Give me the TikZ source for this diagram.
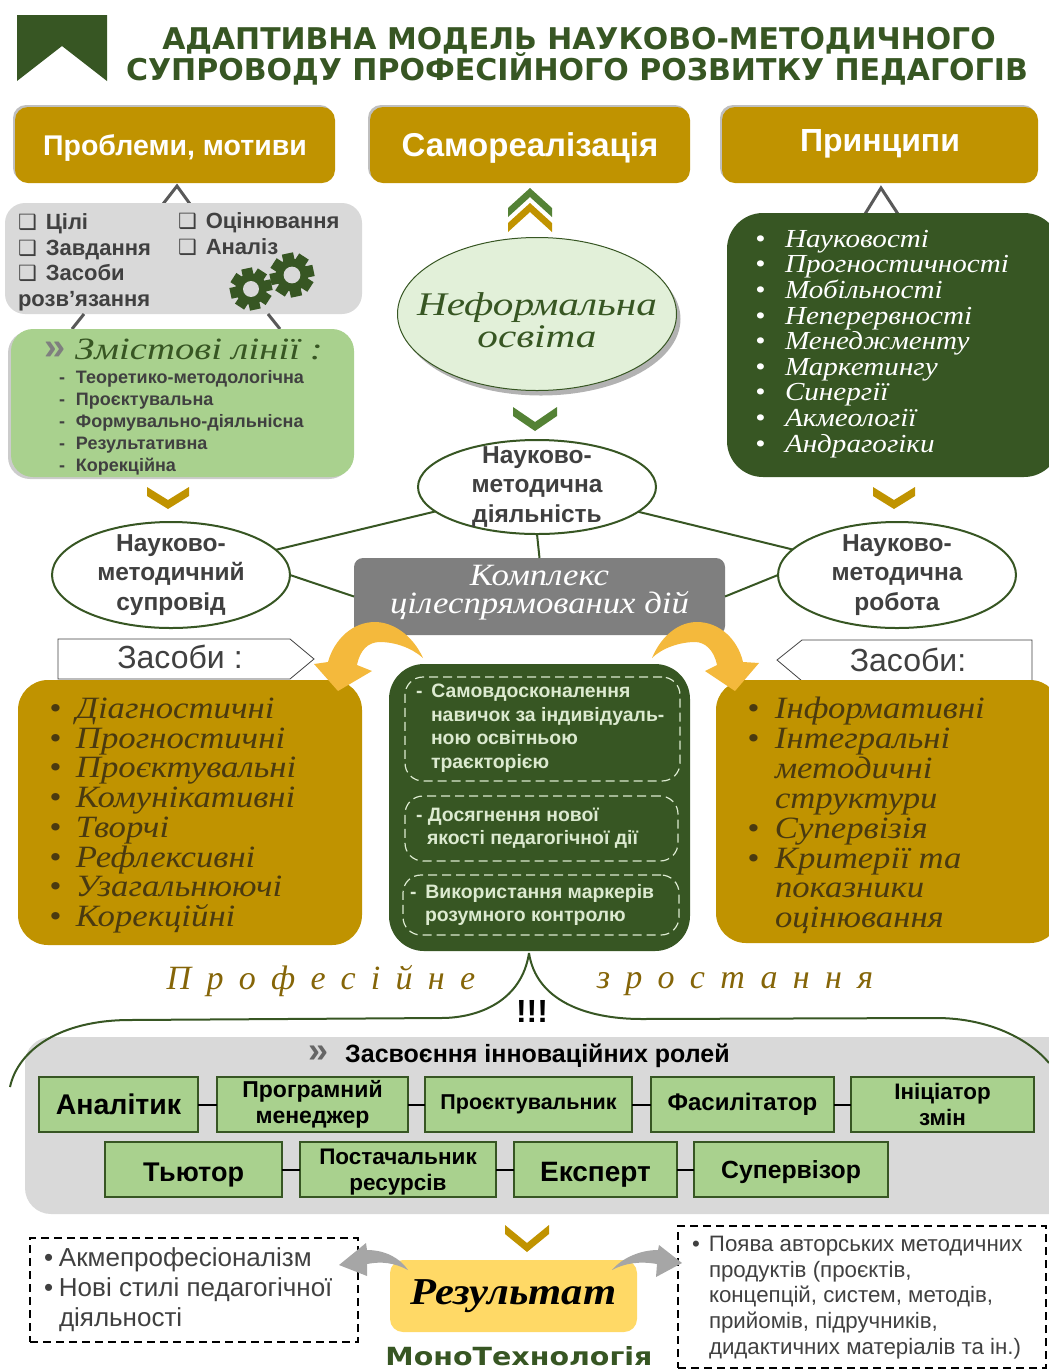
\documentclass[tikz,border=0pt]{standalone}
\usepackage{fontspec}
\usetikzlibrary{shadows,shapes.geometric}
\setmainfont{Liberation Sans}
\newfontfamily\wide{DejaVu Sans}
\newfontfamily\widex[FakeStretch=1.14]{DejaVu Sans}
\newfontfamily\symf{DejaVu Sans}
\newfontfamily\curf[FakeStretch=1.12]{Liberation Serif}
\newfontfamily\curwf[FakeStretch=1.25]{Liberation Serif}
\newfontfamily\cursp[LetterSpace=45]{Liberation Serif}
\newcommand{\cur}{\curf\itshape}
\newcommand{\curw}{\curwf\itshape}
\newcommand{\fs}[2]{\fontsize{#1}{#2}\selectfont}
\definecolor{dgreen}{HTML}{375623}
\definecolor{mgreen}{HTML}{548235}
\definecolor{gold}{HTML}{C09300}
\definecolor{lgreen}{HTML}{A9D18E}
\definecolor{pgreen}{HTML}{E2F0D9}
\definecolor{lgrey}{HTML}{D9D9D9}
\definecolor{mgrey}{HTML}{7F7F7F}
\definecolor{ink}{HTML}{404040}
\definecolor{bronze}{HTML}{856508}
\definecolor{yarrow}{HTML}{F4B93C}
\definecolor{yres}{HTML}{FFD966}
\definecolor{golddark}{HTML}{4A3A10}
\definecolor{paletxt}{HTML}{DCEAD0}
% box from corners
\newcommand{\rbx}[7][]{%
  \pgfmathsetmacro{\bcx}{(#3+#5)/2}\pgfmathsetmacro{\bcy}{(#4+#6)/2}%
  \pgfmathsetmacro{\bw}{#5-#3}\pgfmathsetmacro{\bh}{#6-#4}%
  \node[basebox,#1,minimum width=\bw pt,minimum height=\bh pt] (#2) at (\bcx,\bcy) {#7};}
\newcommand{\chevd}[5]{% cx, y top, half width, depth, colour
  \fill[#5] (#1-#3,#2) -- (#1,#2+#4) -- (#1+#3,#2) -- (#1+#3,#2+9) -- (#1,#2+#4+9) -- (#1-#3,#2+9) -- cycle;}
\newcommand{\chevu}[5]{%
  \fill[#5] (#1-#3,#2) -- (#1,#2-#4) -- (#1+#3,#2) -- (#1+#3,#2+9) -- (#1,#2-#4+9) -- (#1-#3,#2+9) -- cycle;}
\newcommand{\gearic}[3]{%
  \fill[dgreen] (#1,#2) circle (#3*0.74);
  \foreach \a in {0,45,...,315} {\fill[dgreen,shift={(#1,#2)},rotate=\a+12] (-#3*0.26,#3*0.55) rectangle (#3*0.26,#3);}
  \fill[lgrey] (#1,#2) circle (#3*0.38);}
\newcommand{\bl}[2][27pt]{\makebox[#1][l]{\textbullet}#2}
\newcommand{\ck}{{\symf\mdseries\fs{21}{25.5}❑}\hspace{9pt}}
\tikzset{
  basebox/.style={inner sep=0pt,outer sep=0pt,align=center},
  goldhead/.style={fill=gold,rounded corners=13pt,text=white,drop shadow={shadow xshift=-2pt,shadow yshift=2pt,opacity=.25,fill=black}},
  softbox/.style={rounded corners=22pt,drop shadow={shadow xshift=-3pt,shadow yshift=-2pt,opacity=.2,fill=black}},
  goldpanel/.style={fill=gold,rounded corners=30pt},
  rolebox/.style={fill=lgreen,draw=dgreen,line width=1.3pt,text=black,font=\bfseries},
  roleline/.style={draw=black,line width=2pt},
  oval/.style={ellipse,draw=dgreen,line width=2pt,fill=white,inner xsep=-5pt,inner ysep=-16pt,outer sep=0pt,align=center,text=ink,font=\bfseries\fs{24.5}{29.5}},
  link/.style={draw=dgreen,line width=2pt},
  peak/.style={draw=black!65,line width=3pt},
  txt/.style={inner sep=0pt,outer sep=0pt,align=left,anchor=north west},
  dashbox/.style={draw=paletxt,line width=1.2pt,dash pattern=on 9pt off 5pt,rounded corners=18pt},
  plaindash/.style={draw=black,line width=1.2pt,dash pattern=on 8pt off 5pt},
  tagbox/.style={draw=ink,line width=0.8pt,fill=white},
  bigcurve/.style={draw=dgreen,line width=2pt},
}
\begin{document}
\begin{tikzpicture}[x=1pt,y=-1pt]
\useasboundingbox (0,0) rectangle (1049,1369);
% header
\fill[dgreen] (17,15) -- (107,15) -- (107,81) -- (62,46) -- (17,81) -- cycle;
\node[inner sep=0pt,text=dgreen] (t1) at (579,41) {\wide\bfseries\fs{29.9}{32}АДАПТИВНА МОДЕЛЬ НАУКОВО-МЕТОДИЧНОГО};
\node[inner sep=0pt,text=dgreen] (t2) at (577,69) {\wide\bfseries\fs{30}{32}СУПРОВОДУ ПРОФЕСІЙНОГО РОЗВИТКУ ПЕДАГОГІВ};
% top gold heads
\rbx[goldhead,font=\bfseries\fs{28.5}{30}]{h1}{15}{107}{335}{183}{\rule{0pt}{26pt}Проблеми, мотиви}
\rbx[goldhead,font=\bfseries\fs{33}{30}]{h2}{370}{107}{690}{183}{\rule{0pt}{29pt}Самореалізація}
\rbx[goldhead,font=\bfseries\fs{32}{30}]{h3}{722}{107}{1038}{183}{Принципи\rule[-9pt]{0pt}{9pt}}
% peaks
\coordinate (pa) at (177,186); \coordinate (pal) at (163,204); \coordinate (par) at (190,204);
\draw[peak] (pal) -- (pa) -- (par);
\coordinate (pb) at (881,188); \coordinate (pbl) at (865,214); \coordinate (pbr) at (898,214);
\draw[peak] (pbl) -- (pb) -- (pbr);
% grey panel
\rbx[fill=lgrey,rounded corners=20pt]{gp}{5}{203}{362}{314}{}
\node[txt,text=ink,font=\bfseries\fs{22}{25.5}] (gp1) at (18,214) {\ck Цілі\\\ck Завдання\\\ck Засоби\\розв’язання};
\node[txt,text=ink,font=\bfseries\fs{22}{25.5}] (gp2) at (178,213) {\ck Оцінювання\\\ck Аналіз};
\gearic{251}{289}{21}
\gearic{292}{275}{22}
% links grey to green
\coordinate (gl1) at (84,314); \coordinate (gl2) at (72,329);
\coordinate (gr1) at (268,314); \coordinate (gr2) at (280,329);
\draw[peak] (gl1) -- (gl2);
\draw[peak] (gr1) -- (gr2);
% content lines
\rbx[fill=lgreen,softbox]{cl}{11}{329}{354}{477}{}
\node[inner sep=0pt,anchor=west,text=mgrey] (cls) at (44,351) {\bfseries\fs{38}{38}»};
\node[inner sep=0pt,anchor=west,text=dgreen] (clt) at (75,349) {\curw\fs{31}{30}Змістові лінії :};
\node[txt,text=ink,font=\bfseries\fs{18}{22.2}] (cll) at (59,370) {\makebox[17pt][l]{-}Теоретико-методологічна\\\makebox[17pt][l]{-}Проєктувальна\\\makebox[17pt][l]{-}Формувально-діяльнісна\\\makebox[17pt][l]{-}Результативна\\\makebox[17pt][l]{-}Корекційна};
% centre top
\chevu{530}{208}{22}{20}{mgreen}
\chevu{530}{223}{22}{20}{gold}
\node[oval,line width=1pt,fill=pgreen,minimum width=279pt,minimum height=153pt,inner xsep=-40pt,inner ysep=-25pt,drop shadow={shadow xshift=4pt,shadow yshift=-5pt,opacity=.3,fill=black},font=\curw\fs{33}{32},text=dgreen] (ef) at (537,314) {\rule{0pt}{35pt}Неформальна\\освіта};
\chevd{535}{407}{22}{15}{mgreen}
% ovals
\node[oval,minimum width=238pt,minimum height=94pt] (em) at (537,487) {Науково-\\методична\\діяльність};
\node[oval,minimum width=238pt,minimum height=106pt] (el) at (171,575) {Науково-\\методичний\\супровід};
\node[oval,minimum width=238pt,minimum height=106pt] (er) at (897,575) {Науково-\\методична\\робота};
\chevd{168}{487}{21}{13}{gold}
\chevd{894}{487}{21}{13}{gold}
% principles
\rbx[fill=dgreen,rounded corners=36pt]{pr}{727}{213}{1060}{477}{}
\node[txt,text=white,font=\cur\fs{26}{25.6}] (prt) at (755,230) {\bl[30pt]{Науковості}\\\bl[30pt]{Прогностичності}\\\bl[30pt]{Мобільності}\\\bl[30pt]{Неперервності}\\\bl[30pt]{Менеджменту}\\\bl[30pt]{Маркетингу}\\\bl[30pt]{Синергії}\\\bl[30pt]{Акмеології}\\\bl[30pt]{Андрагогіки}};
% grey complex
\rbx[fill=mgrey,rounded corners=9pt,text=white,font=\cur\fs{31}{28.5}]{cx}{354}{558}{725}{635}{Комплекс\\цілеспрямованих дій\rule[-14pt]{0pt}{14pt}}
\draw[link] (em) -- (el);
\draw[link] (em) -- (er);
\draw[link] (em.south) -- (cx.north);
\draw[link] (el.east) -- (cx.west);
\draw[link] (cx.east) -- (er.west);
% tags
\draw[tagbox] (58,639) -- (290,639) -- (314,659) -- (290,679) -- (58,679) -- cycle;
\draw[tagbox] (777,660) -- (802,640) -- (1032,640) -- (1032,681) -- (802,681) -- cycle;
\node[inner sep=0pt,text=ink] (tl) at (180,657) {\fs{32}{30}Засоби :};
\node[inner sep=0pt,text=ink] (trr) at (908,660) {\fs{32}{30}Засоби:};
% lower panels
\rbx[goldpanel]{gl}{18}{680}{362}{945}{}
\rbx[goldpanel]{gr}{716}{680}{1060}{943}{}
\node[txt,text=golddark,font=\cur\fs{31}{29.7}] (glt) at (49,698) {\bl{Діагностичні}\\\bl{Прогностичні}\\\bl{Проєктувальні}\\\bl{Комунікативні}\\\bl{Творчі}\\\bl{Рефлексивні}\\\bl{Узагальнюючі}\\\bl{Корекційні}};
\node[txt,text=golddark,font=\cur\fs{31}{29.9}] (grt) at (747,697) {\bl[28pt]{Інформативні}\\\bl[28pt]{Інтегральні}\\\makebox[28pt]{}методичні\\\makebox[28pt]{}структури\\\bl[28pt]{Супервізія}\\\bl[28pt]{Критерії та}\\\makebox[28pt]{}показники\\\makebox[28pt]{}оцінювання};
% centre panel
\rbx[fill=dgreen,rounded corners=35pt]{cp}{389}{664}{690}{951}{}
\rbx[dashbox]{d1}{405}{677}{680}{781}{}
\rbx[dashbox]{d2}{405}{796}{678}{861}{}
\rbx[dashbox]{d3}{403}{875}{679}{935}{}
\node[txt,text=paletxt,font=\bfseries\fs{19.4}{23.5}] (d1t) at (416,684) {-\hspace{9pt}Самовдосконалення\\\hspace{15pt}навичок за індивідуаль-\\\hspace{15pt}ною освітньою\\\hspace{15pt}траєкторією};
\node[txt,text=paletxt,font=\bfseries\fs{19.4}{23.5}] (d2t) at (416,808) {- Досягнення нової\\\hspace{11pt}якості педагогічної дії};
\node[txt,text=paletxt,font=\bfseries\fs{19.4}{23.5}] (d3t) at (410,884) {-\hspace{9pt}Використання маркерів\\\hspace{15pt}розумного контролю};
% yellow arrows
\fill[yarrow] (423,658) .. controls (412,634) and (392,622) .. (375,622) .. controls (352,622) and (334,640) .. (328,662) -- (314,664) -- (338,691) -- (372,671) -- (357,665) .. controls (360,650) and (368,642) .. (380,642) .. controls (395,642) and (412,648) .. (423,658) -- cycle;
\fill[yarrow] (652,658) .. controls (662,634) and (680,622) .. (697,622) .. controls (720,622) and (738,640) .. (743,662) -- (759,663) -- (735,691) -- (705,671) -- (717,665) .. controls (714,650) and (705,642) .. (695,642) .. controls (680,642) and (662,648) .. (652,658) -- cycle;
% growth
\node[inner sep=0pt,text=bronze] (g1) at (321,981) {\cursp\itshape\fs{34}{30}Професійне};
\node[inner sep=0pt,text=bronze] (g2) at (735,984) {\cursp\itshape\fs{34}{30}зростання};
% roles panel
\rbx[fill=lgrey,rounded corners=26pt]{rp}{25}{1037}{1075}{1214}{}
\coordinate (apex) at (529,953);
\draw[bigcurve] (apex) .. controls (522,1000) and (480,1018) .. (441,1018) -- (130,1020) .. controls (60,1020) and (18,1050) .. (10,1087);
\draw[bigcurve] (apex) .. controls (536,1000) and (585,1019) .. (642,1019) -- (936,1018) .. controls (990,1018) and (1030,1040) .. (1049,1063);
\node[inner sep=0pt,text=black] (ex) at (532,1011) {\bfseries\fs{32}{32}!!!};
\node[inner sep=0pt,anchor=west,text=ink!80] (rs) at (308,1054) {\bfseries\fs{36}{36}»};
\node[inner sep=0pt,anchor=west,text=black] (rt) at (345,1056) {\bfseries\fs{25}{26}Засвоєння інноваційних ролей};
\rbx[rolebox,font=\bfseries\fs{28.5}{28}]{r1}{39}{1077}{198}{1132}{Аналітик}
\rbx[rolebox,font=\bfseries\fs{23}{26}]{r2}{217}{1077}{408}{1132}{Програмний\\менеджер}
\rbx[rolebox,font=\bfseries\fs{21.5}{26}]{r3}{425}{1077}{632}{1132}{Проєктувальник}
\rbx[rolebox,font=\bfseries\fs{24}{26}]{r4}{651}{1077}{834}{1132}{Фасилітатор}
\rbx[rolebox,font=\bfseries\fs{22.4}{26}]{r5}{851}{1077}{1034}{1132}{Ініціатор\\змін}
\rbx[rolebox,font=\bfseries\fs{27}{28}]{r6}{105}{1142}{282}{1197}{\rule{0pt}{30pt}Тьютор}
\rbx[rolebox,font=\bfseries\fs{22.5}{26}]{r7}{300}{1142}{496}{1197}{\rule{0pt}{20pt}Постачальник\\ресурсів}
\rbx[rolebox,font=\bfseries\fs{28}{28}]{r8}{514}{1142}{677}{1197}{\rule{0pt}{30pt}Експерт}
\rbx[rolebox,font=\bfseries\fs{24.8}{26}]{r9}{694}{1142}{888}{1197}{\rule{0pt}{23pt}Супервізор}
\draw[roleline] (r1) -- (r2);
\draw[roleline] (r2) -- (r3);
\draw[roleline] (r3) -- (r4);
\draw[roleline] (r4) -- (r5);
\draw[roleline] (r6) -- (r7);
\draw[roleline] (r7) -- (r8);
\draw[roleline] (r8) -- (r9);
% result
\chevd{527}{1225}{22}{18}{gold}
\rbx[fill=yres,rounded corners=13pt,font=\cur\bfseries\fs{38}{36},text=black]{res}{390}{1260}{637}{1332}{Результат}
\node[inner sep=0pt,text=dgreen] (mono) at (519,1356) {\widex\bfseries\fs{25}{26}МоноТехнологія};
\rbx[plaindash]{bl}{30}{1238}{358}{1342}{}
\rbx[plaindash]{br}{678}{1226}{1046}{1368}{}
\node[txt,text=ink,font=\fs{26}{30}] (blt) at (44,1248) {\makebox[15pt][l]{\textbullet}Акмепрофесіоналізм\\\makebox[15pt][l]{\textbullet}Нові стилі педагогічної\\\makebox[15pt]{}діяльності};
\node[txt,text=ink,font=\fs{22.3}{25.8}] (brt) at (692,1236) {\makebox[17pt][l]{\textbullet}Поява авторських методичних\\\makebox[17pt]{}продуктів (проєктів,\\\makebox[17pt]{}концепцій, систем, методів,\\\makebox[17pt]{}прийомів, підручників,\\\makebox[17pt]{}дидактичних матеріалів та ін.)};
\fill[black!35] (339,1265) -- (366,1243) -- (367,1250) .. controls (385,1250) and (400,1258) .. (408,1270) .. controls (395,1263) and (382,1261) .. (367,1264) -- (367,1276) -- cycle;
\fill[black!35] (682,1263) -- (659,1245) -- (658,1250) .. controls (640,1250) and (622,1258) .. (612,1270) .. controls (625,1263) and (640,1261) .. (657,1264) -- (656,1277) -- cycle;
\end{tikzpicture}
\end{document}
